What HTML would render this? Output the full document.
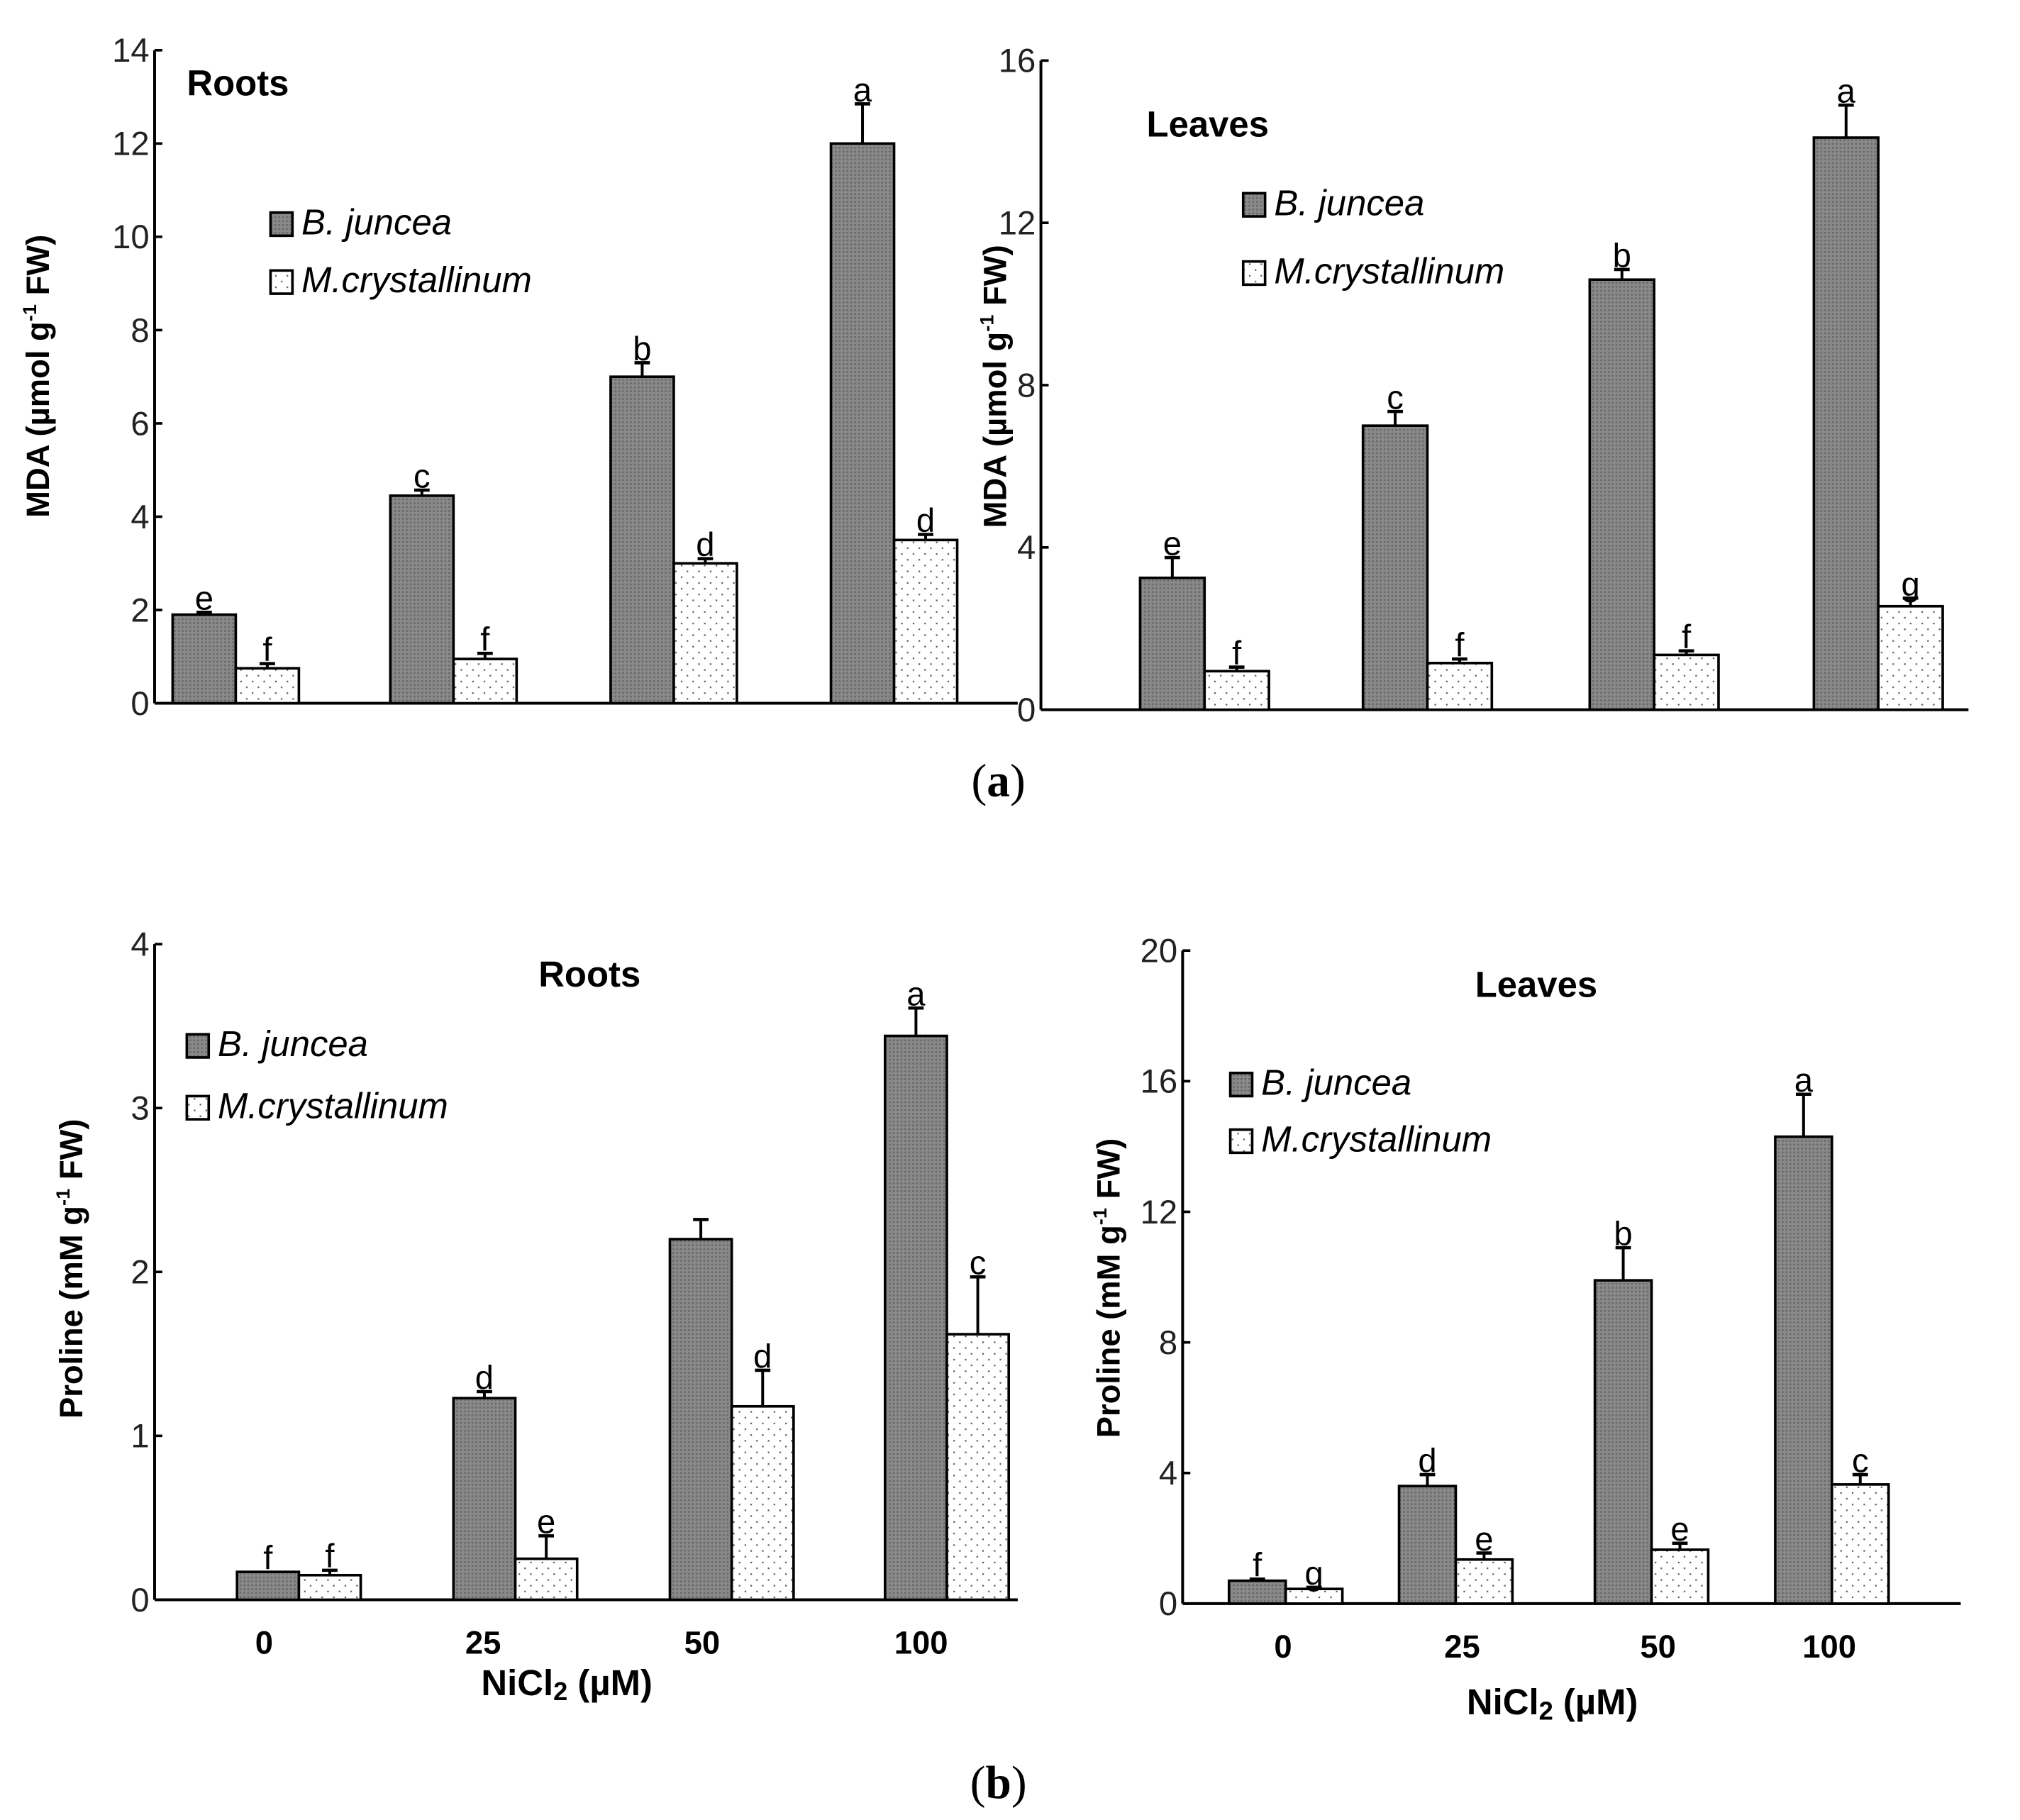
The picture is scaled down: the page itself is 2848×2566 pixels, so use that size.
<!DOCTYPE html>
<html><head><meta charset="utf-8"><style>
html,body{margin:0;padding:0;background:#fff;}
svg{display:block;}
text{font-family:"Liberation Sans Narrow","Liberation Sans",sans-serif;}
</style></head><body>
<svg id="fig" width="2848" height="2566" viewBox="0 0 1568 1413" preserveAspectRatio="none" xmlns="http://www.w3.org/2000/svg">
<defs>
<pattern id="hatch" width="3" height="3" patternUnits="userSpaceOnUse">
<rect width="3" height="3" fill="#8a8a8a"/><rect width="1.5" height="1.5" fill="#6a6a6a"/>
</pattern>
<pattern id="dots" width="9" height="9" patternUnits="userSpaceOnUse">
<rect width="9" height="9" fill="#fff"/><rect x="2" y="2" width="1.2" height="1.2" fill="#555"/><rect x="6.5" y="6.5" width="1.2" height="1.2" fill="#555"/>
</pattern>
</defs>
<text x="775" y="618" style="font-family:'Liberation Serif',serif" font-size="36" text-anchor="middle">(<tspan font-weight="bold">a</tspan>)</text>
<text x="775" y="1396" style="font-family:'Liberation Serif',serif" font-size="36" text-anchor="middle">(<tspan font-weight="bold">b</tspan>)</text>
</svg>
<script>
// Panel data
const categories = ["0","25","50","100"];
const mdaRootsBj = [1.9, 4.45, 7.0, 12.0];
const mdaRootsBjErr = [0.05, 0.12, 0.3, 0.85];
const mdaRootsMc = [0.75, 0.95, 3.0, 3.5];
const mdaRootsMcErr = [0.1, 0.12, 0.1, 0.12];
const mdaRootsBjLetters = ["e","c","b","a"];
const mdaRootsMcLetters = ["f","f","d","d"];
const mdaRootsTicks = [0,2,4,6,8,10,12,14];

const mdaLeavesBj = [3.25, 7.0, 10.6, 14.1];
const mdaLeavesBjErr = [0.5, 0.35, 0.25, 0.8];
const mdaLeavesMc = [0.95, 1.15, 1.35, 2.55];
const mdaLeavesMcErr = [0.1, 0.1, 0.1, 0.2];
const mdaLeavesBjLetters = ["e","c","b","a"];
const mdaLeavesMcLetters = ["f","f","f","g"];
const mdaLeavesTicks = [0,4,8,12,16];

const proRootsBj = [0.17, 1.23, 2.2, 3.44];
const proRootsBjErr = [0.0, 0.04, 0.12, 0.17];
const proRootsMc = [0.15, 0.25, 1.18, 1.62];
const proRootsMcErr = [0.03, 0.14, 0.22, 0.35];
const proRootsBjLetters = ["f","d","","a"];
const proRootsMcLetters = ["f","e","d","c"];
const proRootsTicks = [0,1,2,3,4];

const proLeavesBj = [0.7, 3.6, 9.9, 14.3];
const proLeavesBjErr = [0.05, 0.35, 1.0, 1.3];
const proLeavesMc = [0.45, 1.35, 1.65, 3.65];
const proLeavesMcErr = [0.05, 0.2, 0.2, 0.3];
const proLeavesBjLetters = ["f","d","b","a"];
const proLeavesMcLetters = ["g","e","e","c"];
const proLeavesTicks = [0,4,8,12,16,20];

const NS="http://www.w3.org/2000/svg";
const svg=document.getElementById('fig');
function mk(tag,attrs,parent){const e=document.createElementNS(NS,tag);for(const k in attrs)e.setAttribute(k,attrs[k]);(parent||svg).appendChild(e);return e;}

function panel(cfg){
  const g=mk('g',{});
  
  
  const y=v=>cfg.y0-(v/cfg.max)*(cfg.y0-cfg.yTop);
  const ya=mk('line',{x1:cfg.ax,y1:cfg.yTop,x2:cfg.ax,y2:cfg.y0,stroke:'#000','stroke-width':2.2},g);
  
  
  const xa=mk('line',{x1:cfg.ax,y1:cfg.y0,x2:cfg.xEnd,y2:cfg.y0,stroke:'#000','stroke-width':2.2},g);
  
  
  cfg.ticks.forEach(t=>{
    mk('line',{x1:cfg.ax,y1:y(t),x2:cfg.ax+6,y2:y(t),stroke:'#000','stroke-width':2},g);
    const tl=mk('text',{x:cfg.ax-4,y:y(t)+9,'font-size':26,'text-anchor':'end',fill:'#222'},g);
    tl.textContent=t;
    
    
  });
  const yt=mk('text',{x:0,y:0,'font-size':25,'font-weight':'bold','text-anchor':'middle',style:"font-family:'Liberation Sans',sans-serif",transform:`translate(${cfg.ylx},${cfg.yly}) rotate(-90)`},g);
  yt.innerHTML=cfg.ylabel;
  
  
  const tt=mk('text',{x:cfg.tx,y:cfg.ty,'font-size':28,'font-weight':'bold'},g);
  tt.textContent=cfg.title;
  
  
  [[cfg.lx,cfg.ly,'url(#hatch)','B. juncea'],[cfg.lx,cfg.ly+cfg.lgap,'url(#dots)','M.crystallinum']].forEach((L,i)=>{
    const r=mk('rect',{x:L[0],y:L[1]-17,width:17,height:18,fill:L[2],stroke:'#000','stroke-width':2},g);
    
    
    const lt=mk('text',{x:L[0]+24,y:L[1],'font-size':28,'font-style':'italic'},g);
    lt.textContent=L[3];
    
    
  });
  const series=[[cfg.bj,cfg.bjErr,cfg.bjL,'url(#hatch)',-1],[cfg.mc,cfg.mcErr,cfg.mcL,'url(#dots)',0]];
  categories.forEach((c,i)=>{
    series.forEach((s,si)=>{
      const x=cfg.centers[i]+s[4]*cfg.bw;
      const v=s[0][i], e=s[1][i];
      const b=mk('rect',{x:x,y:y(v),width:cfg.bw,height:cfg.y0-y(v),fill:s[3],stroke:'#000','stroke-width':2},g);
      
      
      const cx=x+cfg.bw/2;
      if(e>0){
        mk('line',{x1:cx,y1:y(v),x2:cx,y2:y(v+e),stroke:'#000','stroke-width':2.2},g);
        mk('line',{x1:cx-6,y1:y(v+e),x2:cx+6,y2:y(v+e),stroke:'#000','stroke-width':2.5},g);
      }
      if(s[2][i]){
        const lt=mk('text',{x:cx,y:y(v+e)-2,'font-size':26,'text-anchor':'middle'},g);
        lt.textContent=s[2][i];
        
        
      }
    });
    if(cfg.xl){
      const xl=mk('text',{x:cfg.xl[i],y:cfg.y0+42,'font-size':25,'font-weight':'bold','text-anchor':'middle'},g);
      xl.textContent=c;
      
      
    }
  });
  if(cfg.xtitle){
    const xt=mk('text',{x:cfg.xtitle[0],y:cfg.xtitle[1],'font-size':28,'font-weight':'bold','text-anchor':'middle'},g);
    xt.innerHTML='NiCl<tspan font-size="20" dy="4">2</tspan><tspan dy="-4"> (µM)</tspan>';
    
    
  }
}
const mdaLabel='MDA (µmol g<tspan font-size="15" dy="-10">-1</tspan><tspan dy="10"> FW)</tspan>';
const proLabel='Proline (mM g<tspan font-size="15" dy="-10">-1</tspan><tspan dy="10"> FW)</tspan>';
panel({name:'mda-roots-chart',ax:120,y0:546,yTop:39,max:14,xEnd:790,ticks:mdaRootsTicks,
  bj:mdaRootsBj,bjErr:mdaRootsBjErr,mc:mdaRootsMc,mcErr:mdaRootsMcErr,bjL:mdaRootsBjLetters,mcL:mdaRootsMcLetters,
  centers:[183,352,523,694],bw:49,ylabel:mdaLabel,ylx:38,yly:292,title:'Roots',tx:145,ty:74,lx:210,ly:182,lgap:45});
panel({name:'mda-leaves-chart',ax:808,y0:551,yTop:47,max:16,xEnd:1528,ticks:mdaLeavesTicks,
  bj:mdaLeavesBj,bjErr:mdaLeavesBjErr,mc:mdaLeavesMc,mcErr:mdaLeavesMcErr,bjL:mdaLeavesBjLetters,mcL:mdaLeavesMcLetters,
  centers:[935,1108,1284,1458],bw:50,ylabel:mdaLabel,ylx:781,yly:300,title:'Leaves',tx:890,ty:106,lx:965,ly:167,lgap:53});
panel({name:'proline-roots-chart',ax:120,y0:1242,yTop:733,max:4,xEnd:790,ticks:proRootsTicks,
  bj:proRootsBj,bjErr:proRootsBjErr,mc:proRootsMc,mcErr:proRootsMcErr,bjL:proRootsBjLetters,mcL:proRootsMcLetters,
  centers:[232,400,568,735],bw:48,ylabel:proLabel,ylx:64,yly:985,title:'Roots',tx:418,ty:766,lx:145,ly:820,lgap:48,
  xl:[205,375,545,715],xtitle:[440,1316]});
panel({name:'proline-leaves-chart',ax:918,y0:1245,yTop:738,max:20,xEnd:1522,ticks:proLeavesTicks,
  bj:proLeavesBj,bjErr:proLeavesBjErr,mc:proLeavesMc,mcErr:proLeavesMcErr,bjL:proLeavesBjLetters,mcL:proLeavesMcLetters,
  centers:[998,1130,1282,1422],bw:44,ylabel:proLabel,ylx:869,yly:1000,title:'Leaves',tx:1145,ty:774,lx:955,ly:850,lgap:44,
  xl:[996,1135,1287,1420],xtitle:[1205,1331]});
</script>
</body></html>
